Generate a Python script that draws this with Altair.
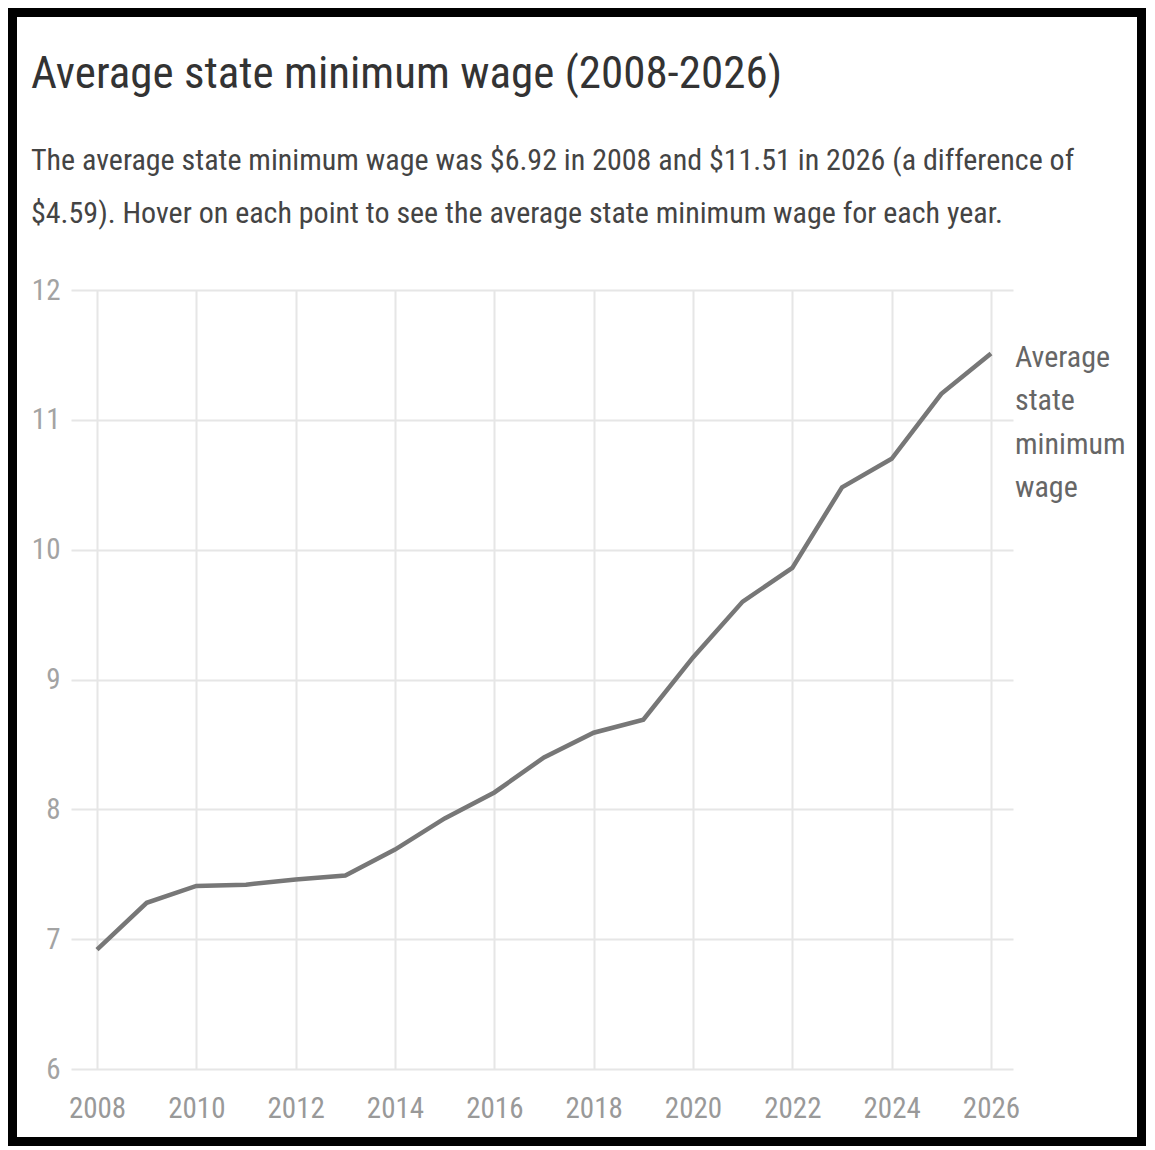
import altair as alt
import pandas as pd

# ---- data ----
years = [2008, 2009, 2010, 2011, 2012, 2013, 2014, 2015, 2016, 2017,
         2018, 2019, 2020, 2021, 2022, 2023, 2024, 2025, 2026]
wages = [6.92, 7.28, 7.41, 7.42, 7.46, 7.49, 7.69, 7.93, 8.13, 8.40,
         8.59, 8.69, 9.17, 9.60, 9.86, 10.48, 10.70, 11.20, 11.51]
x_tick_values = [2008, 2010, 2012, 2014, 2016, 2018, 2020, 2022, 2024, 2026]
y_tick_values = [6, 7, 8, 9, 10, 11, 12]
series_label_lines = ["Average", "state", "minimum", "wage"]
title_text = "Average state minimum wage (2008-2026)"
subtitle_lines = [
    "The average state minimum wage was $6.92 in 2008 and $11.51 in 2026 (a difference of",
    "$4.59). Hover on each point to see the average state minimum wage for each year.",
]

FONT = "Liberation Sans Narrow, Roboto Condensed, Arial Narrow, Roboto, sans-serif"
W, H = 942, 779

df = pd.DataFrame({"year": years, "wage": wages})
last = df.tail(1).assign(label="\n".join(series_label_lines))

x_enc = alt.X(
    "year:Q",
    scale=alt.Scale(domain=[2007.4765, 2026.443], nice=False, zero=False),
    axis=alt.Axis(values=x_tick_values, format="d", title=None, grid=True,
                  gridColor="#e6e6e6", gridWidth=2, ticks=False, tickSize=0,
                  domain=False, labelFont=FONT, labelFontSize=29,
                  labelColor="#999999", labelPadding=25, labelFlush=False),
)
y_enc = alt.Y(
    "wage:Q",
    scale=alt.Scale(domain=[6, 12], nice=False, zero=False),
    axis=alt.Axis(values=y_tick_values, format="d", title=None, grid=True,
                  gridColor="#e6e6e6", gridWidth=2, ticks=False, tickSize=0,
                  domain=False, labelFont=FONT, labelFontSize=29,
                  labelColor="#a3a3a3", labelPadding=11, labelFlush=False),
)

line = alt.Chart(df).mark_line(color="#777777", strokeWidth=4.5).encode(x=x_enc, y=y_enc)

label = alt.Chart(last).mark_text(
    align="left", baseline="top", dx=24, dy=-11, lineBreak="\n",
    lineHeight=43.5, fontSize=30, font=FONT, color="#666666",
).encode(x="year:Q", y="wage:Q", text="label:N")

frame = alt.Chart(pd.DataFrame({"f": [0]})).mark_rect(
    filled=False, stroke="black", strokeWidth=9, clip=False,
).encode(
    x=alt.value(-58.5), x2=alt.value(1070.5),
    y=alt.value(-277.5), y2=alt.value(851.5),
)

chart = alt.layer(line, label, frame).properties(
    width=W, height=H, padding=0, background="white",
    title=alt.TitleParams(
        text=title_text, subtitle=subtitle_lines, anchor="start", frame="group",
        dx=-40, offset=-221, fontSize=45, font=FONT, fontWeight="normal",
        color="#333333", subtitleFont=FONT, subtitleFontSize=30,
        subtitleColor="#444444", subtitleLineHeight=53, subtitlePadding=49,
    ),
).configure_view(strokeWidth=0)

chart.save("out.html", embed_options={"renderer": "svg", "actions": False})
